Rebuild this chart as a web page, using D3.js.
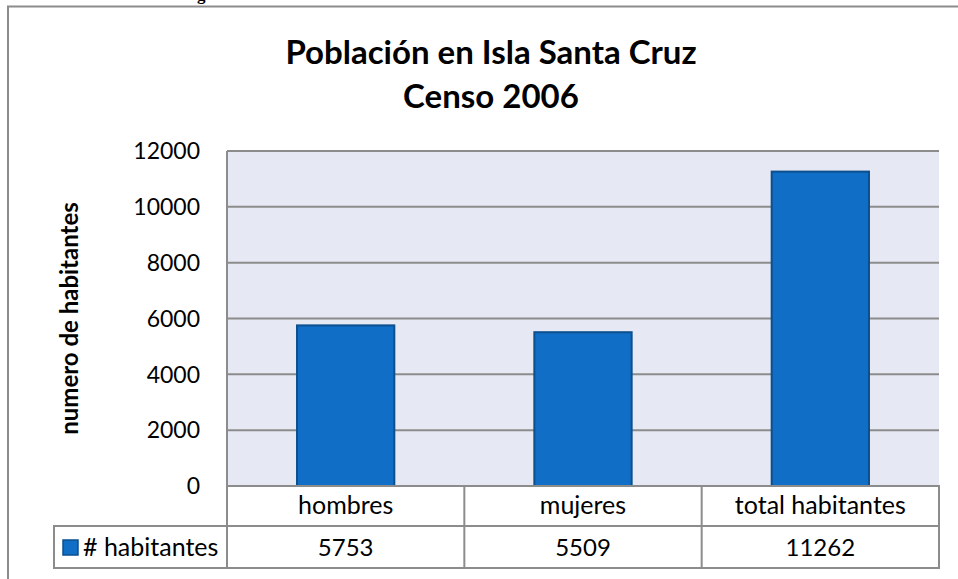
<!DOCTYPE html>
<html>
<head>
<meta charset="utf-8">
<script src="https://cdn.jsdelivr.net/npm/d3@7"></script>
<style>
  body { margin: 0; background: #fff; }
  text { font-family: Lato, "Open Sans", sans-serif; fill: #000; }
</style>
</head>
<body>
<div id="chart"></div>
<script>
//Data
var categories = ["hombres", "mujeres", "total habitantes"];
var habitantes = [5753, 5509, 11262];
var yTicks = [0, 2000, 4000, 6000, 8000, 10000, 12000];
var seriesName = "# habitantes";
var titleLines = ["Población en Isla Santa Cruz", "Censo 2006"];
var yTitle = "numero de habitantes";
var caption = "Figura 1: Población en la Isla Santa Cruz";

//Colors
var barcolor = "#116ec7";
var barborder = "#0b4f8e";
var plotbg = "#e6e9f4";
var gridcolor = "#8c8c8c";

//Plot area
var plot = { left: 227, right: 939, top: 151, bottom: 486 };
var row1 = 526, row2 = 568, legendLeft = 54;

var svg = d3.select("#chart").append("svg")
  .attr("width", 958)
  .attr("height", 579);

// caption above the chart, mostly cut off by the page top as in the source
svg.append("text")
  .attr("x", 182).attr("y", 0)
  .style("font-family", "'Liberation Serif', serif")
  .style("font-weight", "bold")
  .style("font-size", "17px")
  .text(caption);

// chart frame (right and bottom edges fall off the page)
svg.append("rect")
  .attr("x", 8).attr("y", 6.5)
  .attr("width", 1000).attr("height", 1000)
  .attr("fill", "white")
  .attr("stroke", gridcolor).attr("stroke-width", 2);

var y = d3.scaleLinear().domain([0, 12000]).range([plot.bottom, plot.top]);
var x = d3.scaleBand().domain(categories).range([plot.left, plot.right]);

svg.append("rect")
  .attr("x", plot.left).attr("y", plot.top)
  .attr("width", plot.right - plot.left).attr("height", plot.bottom - plot.top)
  .attr("fill", plotbg);

// gridlines
svg.append("g").selectAll("line")
  .data(yTicks)
  .enter().append("line")
  .attr("x1", plot.left).attr("x2", plot.right)
  .attr("y1", function(d) { return y(d); })
  .attr("y2", function(d) { return y(d); })
  .attr("stroke", gridcolor).attr("stroke-width", 2);

// plot left border
svg.append("line")
  .attr("x1", plot.left).attr("x2", plot.left)
  .attr("y1", plot.top).attr("y2", plot.bottom)
  .attr("stroke", gridcolor).attr("stroke-width", 2);

// y tick labels
svg.append("g").selectAll("text")
  .data(yTicks)
  .enter().append("text")
  .attr("x", 200)
  .attr("y", function(d) { return y(d); })
  .attr("dy", "0.36em")
  .attr("text-anchor", "end")
  .style("font-size", "23px")
  .text(function(d) { return d; });

// bars
var barW = x.bandwidth() * 0.41;
svg.append("g").selectAll("rect")
  .data(habitantes)
  .enter().append("rect")
  .attr("x", function(d, i) { return x(categories[i]) + (x.bandwidth() - barW) / 2; })
  .attr("y", function(d) { return y(d); })
  .attr("width", barW)
  .attr("height", function(d) { return y(0) - y(d); })
  .attr("fill", barcolor)
  .attr("stroke", barborder).attr("stroke-width", 2);

// data table
var table = svg.append("g");
table.append("rect")
  .attr("x", plot.left).attr("y", plot.bottom)
  .attr("width", plot.right - plot.left).attr("height", row2 - plot.bottom)
  .attr("fill", "white").attr("stroke", gridcolor).attr("stroke-width", 2);
table.append("rect")
  .attr("x", legendLeft).attr("y", row1)
  .attr("width", plot.left - legendLeft).attr("height", row2 - row1)
  .attr("fill", "white").attr("stroke", gridcolor).attr("stroke-width", 2);
table.append("line")
  .attr("x1", plot.left).attr("x2", plot.right)
  .attr("y1", row1).attr("y2", row1)
  .attr("stroke", gridcolor).attr("stroke-width", 2);
table.selectAll(".col")
  .data(categories.slice(1))
  .enter().append("line")
  .attr("x1", function(d) { return x(d); })
  .attr("x2", function(d) { return x(d); })
  .attr("y1", plot.bottom).attr("y2", row2)
  .attr("stroke", gridcolor).attr("stroke-width", 2);

table.selectAll(".cat")
  .data(categories)
  .enter().append("text")
  .attr("x", function(d) { return x(d) + x.bandwidth() / 2; })
  .attr("y", 514)
  .attr("text-anchor", "middle")
  .style("font-size", "25px")
  .text(function(d) { return d; });

table.selectAll(".val")
  .data(habitantes)
  .enter().append("text")
  .attr("x", function(d, i) { return x(categories[i]) + x.bandwidth() / 2; })
  .attr("y", 556)
  .attr("text-anchor", "middle")
  .style("font-size", "24px")
  .text(function(d) { return d; });

// legend key
table.append("rect")
  .attr("x", 63).attr("y", 540)
  .attr("width", 15).attr("height", 15)
  .attr("fill", barcolor).attr("stroke", barborder).attr("stroke-width", 1.5);
table.append("text")
  .attr("x", 83).attr("y", 556)
  .style("font-size", "25px")
  .text(seriesName);

// titles
svg.append("g").selectAll("text")
  .data(titleLines)
  .enter().append("text")
  .attr("x", 491)
  .attr("y", function(d, i) { return 64 + i * 44; })
  .attr("text-anchor", "middle")
  .style("font-size", "33px")
  .style("font-weight", "bold")
  .text(function(d) { return d; });

svg.append("text")
  .attr("transform", "translate(78," + (plot.top + plot.bottom) / 2 + ") rotate(-90)")
  .attr("text-anchor", "middle")
  .style("font-size", "24px")
  .style("font-weight", "bold")
  .text(yTitle);
</script>
</body>
</html>
